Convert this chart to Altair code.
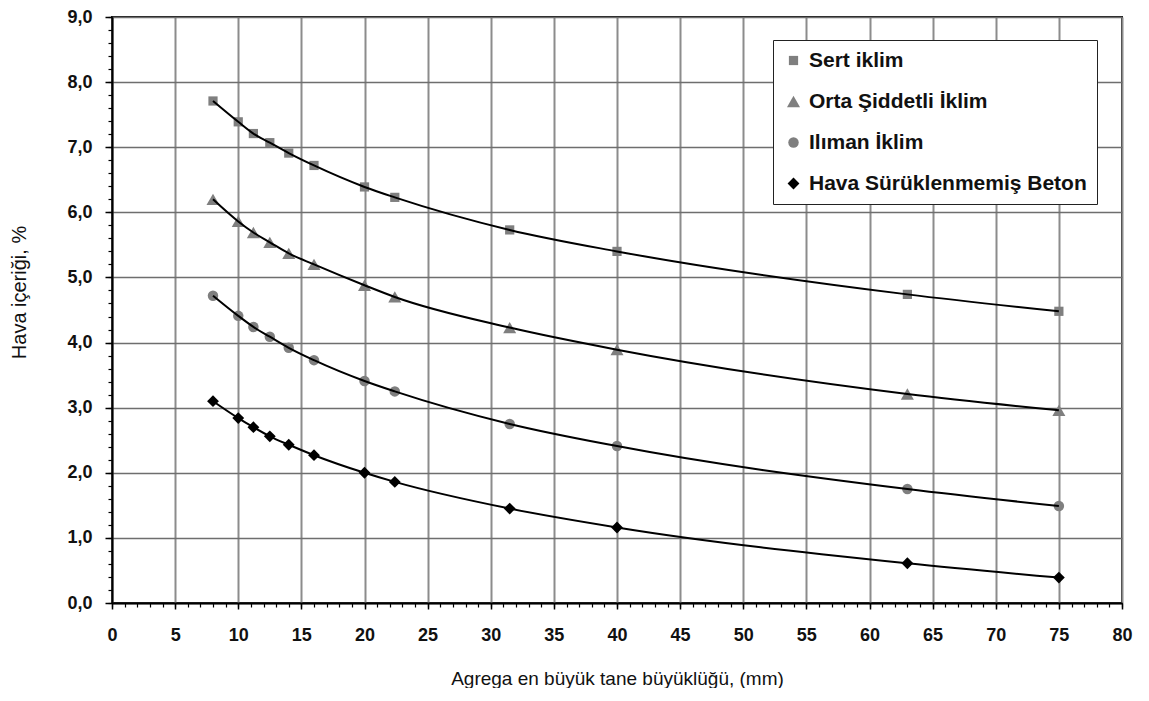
import altair as alt
import pandas as pd

# Aggregate maximum size (mm)
sizes = [8, 10, 11.2, 12.5, 14, 16, 20, 22.4, 31.5, 40, 63, 75]

# Air content (%) per exposure class
sert = [7.71, 7.39, 7.21, 7.07, 6.91, 6.72, 6.39, 6.23, 5.73, 5.40, 4.74, 4.48]
orta = [6.20, 5.86, 5.69, 5.54, 5.37, 5.20, 4.88, 4.70, 4.23, 3.89, 3.21, 2.96]
iliman = [4.72, 4.41, 4.24, 4.09, 3.92, 3.73, 3.41, 3.25, 2.75, 2.41, 1.75, 1.49]
hava = [3.10, 2.84, 2.70, 2.56, 2.43, 2.27, 2.00, 1.86, 1.45, 1.16, 0.61, 0.39]

series_names = ["Sert iklim", "Orta Şiddetli İklim", "Ilıman İklim", "Hava Sürüklenmemiş Beton"]
series_values = [sert, orta, iliman, hava]
marker_shapes = ["square", "triangle-up", "circle", "diamond"]
marker_colors = ["#7f7f7f", "#7f7f7f", "#7f7f7f", "#000000"]
marker_sizes = [85, 170, 110, 140]

x_major = list(range(0, 81, 5))
x_minor = list(range(0, 81, 1))
y_major = list(range(0, 10))
y_minor = [round(i * 0.2, 1) for i in range(46)]

x_title = "Agrega en büyük tane büyüklüğü, (mm)"
y_title = "Hava içeriği, %"

FONT = "Liberation Sans"

rows = []
for name, vals in zip(series_names, series_values):
    for s, v in zip(sizes, vals):
        rows.append({"series": name, "size": s, "air": v})
df = pd.DataFrame(rows)

x_scale = alt.Scale(domain=[0, 80], nice=False, zero=False)
y_scale = alt.Scale(domain=[0, 9], nice=False)

x_major_axis = alt.Axis(
    values=x_major, orient="bottom", grid=True, gridColor="#8c8c8c", gridWidth=2,
    tickSize=6, tickWidth=1.5, tickColor="black", domainColor="black", domainWidth=2,
    labelFont=FONT, labelFontSize=18, labelFontWeight="bold", labelColor="#111111",
    labelPadding=17, labelFlush=False, labelOverlap=False,
    title=x_title, titleFont=FONT, titleFontSize=19, titleFontWeight="normal",
    titleColor="#111111", titleY=81, titleBaseline="alphabetic",
)
y_major_axis = alt.Axis(
    values=y_major, orient="left", grid=True, gridColor="#6e6e6e", gridWidth=1.5,
    tickSize=7, tickWidth=1.5, tickColor="black", domainColor="black", domainWidth=2,
    labelFont=FONT, labelFontSize=18, labelFontWeight="bold", labelColor="#111111",
    labelPadding=13, labelFlush=False, labelOverlap=False,
    labelExpr="replace(format(datum.value, '.1f'), '.', ',')",
    title=y_title, titleFont=FONT, titleFontSize=20, titleFontWeight="normal",
    titleColor="#111111", titleX=-87, titleY=275, titleBaseline="alphabetic", titleAngle=270,
)
x_minor_axis = alt.Axis(
    values=x_minor, orient="bottom", grid=False, domain=False, labels=False,
    tickSize=4, tickWidth=1.2, tickColor="black", title="",
)
y_minor_axis = alt.Axis(
    values=y_minor, orient="left", grid=False, domain=False, labels=False,
    tickSize=4, tickWidth=1.2, tickColor="black", title="",
)

legend = alt.Legend(
    title=None, orient="none", legendX=661, legendY=23,
    fillColor="white", strokeColor="#222222", padding=10, rowPadding=19,
    labelFont=FONT, labelFontSize=21, labelFontWeight="bold", labelColor="#111111",
    labelLimit=400, symbolSize=85, symbolOffset=0, labelOffset=5, symbolStrokeWidth=0,
)

points = alt.Chart(df).mark_point(filled=True, opacity=1).encode(
    x=alt.X("size:Q", scale=x_scale, axis=x_major_axis),
    y=alt.Y("air:Q", scale=y_scale, axis=y_major_axis),
    shape=alt.Shape("series:N", scale=alt.Scale(domain=series_names, range=marker_shapes), legend=legend),
    color=alt.Color("series:N", scale=alt.Scale(domain=series_names, range=marker_colors), legend=legend),
    size=alt.Size("series:N", scale=alt.Scale(type="ordinal", domain=series_names, range=marker_sizes), legend=None),
)

lines = alt.Chart(df).mark_line(color="black", strokeWidth=2, interpolate="monotone").encode(
    x=alt.X("size:Q", scale=x_scale, axis=x_minor_axis),
    y=alt.Y("air:Q", scale=y_scale, axis=y_minor_axis),
    detail="series:N",
)

chart = (
    alt.layer(points, lines)
    .resolve_axis(x="independent", y="independent")
    .properties(
        width=1010, height=586, autosize="none",
        padding={"left": 104, "top": 9, "right": 15, "bottom": 85},
    )
    .configure_view(stroke="#1a1a1a", strokeWidth=2)
)

chart.save("out.html", embed_options={"renderer": "svg", "actions": False})
